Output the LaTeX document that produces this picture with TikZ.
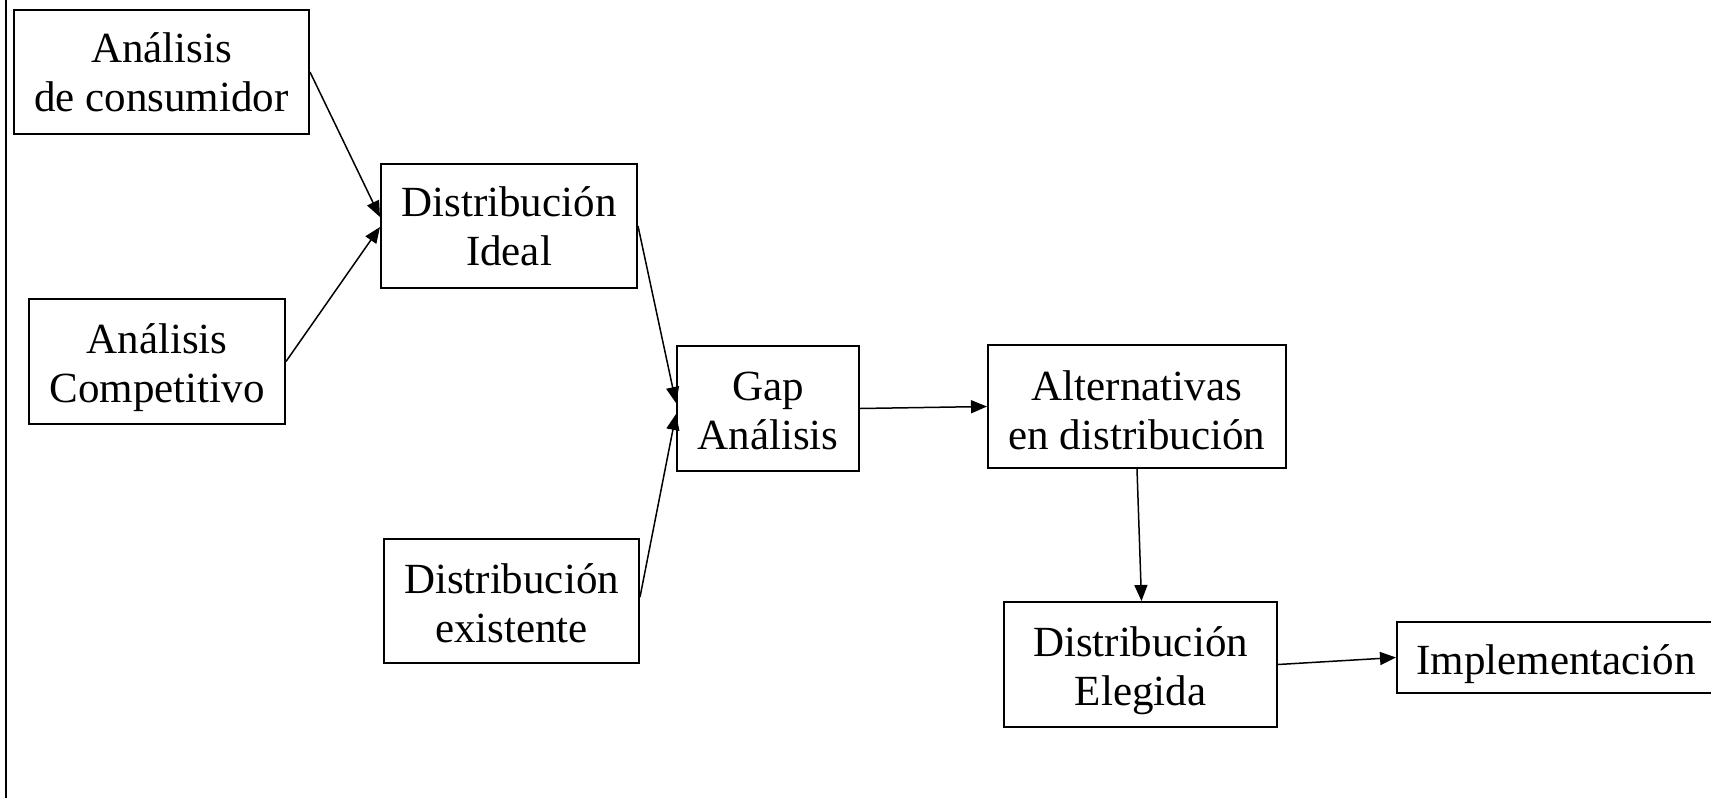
\documentclass[tikz,border=0pt]{standalone}
\usepackage{fontspec}
\setmainfont{Liberation Serif}
\usetikzlibrary{arrows.meta}

\begin{document}
\begin{tikzpicture}[x=1pt,y=-1pt,
  box/.style={draw, line width=2pt, rectangle, inner sep=0pt},
  boxtext/.style={inner sep=0pt, align=center,
    font=\fontsize{43}{49}\selectfont},
  arr/.style={line width=1.5pt, -{Triangle[length=16pt,width=13pt]}}]
  \useasboundingbox (0,0) rectangle (1711,798);

  % left margin rule
  \draw[line width=2pt] (6,0) -- (6,798);

  % process boxes
  \node[box, minimum width=295pt, minimum height=124pt,
        label={[boxtext, yshift=0pt]center:Análisis\\de consumidor}] (cons) at (161.5,72) {};
  \node[box, minimum width=256pt, minimum height=125pt,
        label={[boxtext, yshift=-6pt]center:Análisis\\Competitivo}] (comp) at (157,361.5) {};
  \node[box, minimum width=256pt, minimum height=124pt,
        label={[boxtext, yshift=-0.5pt]center:Distribución\\Ideal}] (ideal) at (509,226) {};
  \node[box, minimum width=255pt, minimum height=124pt,
        label={[boxtext, yshift=-2.5pt]center:Distribución\\existente}] (exist) at (511.5,601) {};
  \node[box, minimum width=182pt, minimum height=125pt,
        label={[boxtext, yshift=-2.5pt]center:Gap\\Análisis}] (gap) at (768,408.5) {};
  \node[box, minimum width=298pt, minimum height=123pt,
        label={[boxtext, yshift=-3.5pt]center:Alternativas\\en distribución}] (alt) at (1137,406.5) {};
  \node[box, minimum width=273pt, minimum height=125pt,
        label={[boxtext, yshift=-6pt]center:Distribución\\Elegida}] (eleg) at (1140.5,664.5) {};
  \node[box, minimum width=316pt, minimum height=71pt,
        label={[boxtext, xshift=1pt, yshift=-7pt]center:Implementación}] (impl) at (1555,657.5) {};

  % connectors
  \draw[arr] (cons.east) -- ([yshift=9pt]ideal.west);
  \draw[arr] (comp.east) -- ([yshift=-1pt]ideal.west);
  \draw[arr] (ideal.east) -- ([yshift=5.5pt]gap.west);
  \draw[arr] ([yshift=4pt]exist.east) -- ([yshift=-5.5pt]gap.west);
  \draw[arr] (gap.east) -- (alt.west);
  \draw[arr] (alt.south) -- ([xshift=1pt]eleg.north);
  \draw[arr] (eleg.east) -- (impl.west);
\end{tikzpicture}
\end{document}
